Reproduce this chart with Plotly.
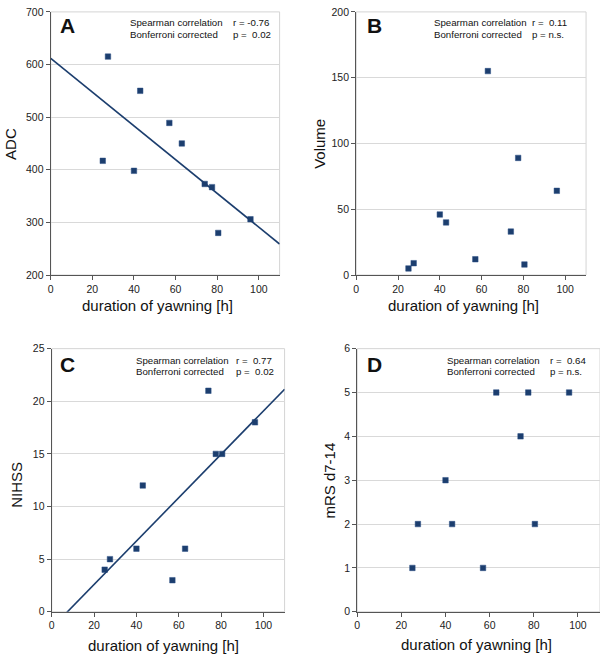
import numpy as np
import plotly.graph_objects as go

# ---- data ----
duration = [25, 27.5, 40, 43, 57, 63, 74, 77.5, 80.5, 96]
adc = [417, 615, 398, 550, 489, 450, 373, 367, 280, 306]
volume = [5, 9, 46, 40, 12, 155, 33, 89, 8, 64]
nihss = [4, 5, 6, 12, 3, 6, 21, 15, 15, 18]
mrs = [1, 2, 3, 2, 1, 5, 4, 5, 2, 5]

panel_letters = ["A", "B", "C", "D"]
y_titles = ["ADC", "Volume", "NIHSS", "mRS d7-14"]
x_title = "duration of yawning [h]"
r_values = ["-0.76", "\u00a00.11", "\u00a00.77", "\u00a00.64"]
p_values = ["\u00a00.02", "n.s.", "\u00a00.02", "n.s."]
y_ranges = [[200, 700], [0, 200], [0, 25], [0, 6]]
y_dticks = [100, 50, 5, 1]
x_ticks = [0, 20, 40, 60, 80, 100]

NAVY = "#1c3e6e"
FONT = "Liberation Sans, Arial, sans-serif"
W, H = 600, 660

# pixel layout of panels: (x0, x1, ytop, ybottom)
panels = [
    (48, 278, 6, 274),
    (355, 586, 6, 274),
    (49, 283, 349, 617),
    (356, 600, 349, 617),
]

series = [adc, volume, nihss, mrs]
fit = [True, False, True, False]

fig = go.Figure()
annotations = []
shapes = []

# positions of texts (pixels)
letter_pos = [(55, 20), (364, 20), (55, 365), (364, 365)]
stat_left = [125.7, 431.5, 131.3, 444.5]
stat_r = [229.3, 529.3, 232.3, 547.3]
stat_y = [(16.5, 29.3), (16.5, 29.3), (360.7, 372.7), (360.7, 372.7)]
ytitle_pos = [(7.5, 140), (318, 140), (12.7, 488), (328, 483)]
xtitle_pos = [(155, 305), (463, 305), (161, 651.5), (475.5, 650.5)]

def px(x):
    return x / W

def py(y):
    return 1 - y / H

for i in range(4):
    k = "" if i == 0 else str(i + 1)
    x0, x1, yt, yb = panels[i]
    xa = dict(
        domain=[px(x0), px(x1)], range=[0, 110], anchor="y" + k,
        tickvals=x_ticks, ticks="outside", ticklen=4, tickcolor="#555",
        showline=True, linecolor="#555", linewidth=1.2,
        showgrid=False, zeroline=False,
        tickfont=dict(family=FONT, size=10.5, color="#222"),
    )
    ya = dict(
        domain=[py(yb), py(yt)], range=y_ranges[i], anchor="x" + k,
        dtick=y_dticks[i], tick0=y_ranges[i][0], ticks="outside", ticklen=4,
        tickcolor="#555", showline=True, linecolor="#555", linewidth=1.2,
        showgrid=True, gridcolor="#d9d9d9", gridwidth=1, zeroline=False,
        tickfont=dict(family=FONT, size=10.5, color="#222"),
    )
    fig.update_layout({"xaxis" + k: xa, "yaxis" + k: ya})

    fig.add_trace(go.Scatter(
        x=duration, y=series[i], mode="markers",
        marker=dict(symbol="square", size=5.5, color=NAVY,
                    line=dict(width=0.5, color="#2a4f85")),
        xaxis="x" + k, yaxis="y" + k, showlegend=False,
    ))
    if fit[i]:
        slope, intercept = np.polyfit(duration, series[i], 1)
        xs = np.array([0, 110])
        fig.add_trace(go.Scatter(
            x=xs, y=slope * xs + intercept, mode="lines",
            line=dict(color=NAVY, width=1.6),
            xaxis="x" + k, yaxis="y" + k, showlegend=False,
        ))

    # light frame on top/right
    shapes.append(dict(type="rect", xref="x" + k + " domain", yref="y" + k + " domain",
                       x0=0, x1=1, y0=0, y1=1, line=dict(color="#d4d4d4", width=1),
                       layer="below"))

    stat_font = dict(family=FONT, size=9.7, color="#111")
    lx, ly = letter_pos[i]
    annotations.append(dict(text="<b>" + panel_letters[i] + "</b>", x=px(lx), y=py(ly),
                            xref="paper", yref="paper", xanchor="left", yanchor="middle",
                            showarrow=False, font=dict(family=FONT, size=21, color="#111")))
    annotations.append(dict(text="Spearman correlation", x=px(stat_left[i]), y=py(stat_y[i][0]),
                            xref="paper", yref="paper", xanchor="left", yanchor="middle",
                            showarrow=False, font=stat_font))
    annotations.append(dict(text="Bonferroni corrected", x=px(stat_left[i]), y=py(stat_y[i][1]),
                            xref="paper", yref="paper", xanchor="left", yanchor="middle",
                            showarrow=False, font=stat_font))
    annotations.append(dict(text="r =\u00a0" + r_values[i], x=px(stat_r[i]), y=py(stat_y[i][0]),
                            xref="paper", yref="paper", xanchor="left", yanchor="middle",
                            showarrow=False, font=stat_font))
    annotations.append(dict(text="p =\u00a0" + p_values[i], x=px(stat_r[i]), y=py(stat_y[i][1]),
                            xref="paper", yref="paper", xanchor="left", yanchor="middle",
                            showarrow=False, font=stat_font))
    tx, ty = ytitle_pos[i]
    annotations.append(dict(text=y_titles[i], x=px(tx), y=py(ty), textangle=-90,
                            xref="paper", yref="paper", xanchor="center", yanchor="middle",
                            showarrow=False, font=dict(family=FONT, size=15, color="#111")))
    tx, ty = xtitle_pos[i]
    annotations.append(dict(text=x_title, x=px(tx), y=py(ty),
                            xref="paper", yref="paper", xanchor="center", yanchor="middle",
                            showarrow=False, font=dict(family=FONT, size=15, color="#111")))

fig.update_layout(
    width=W, height=H, margin=dict(l=0, r=0, t=0, b=0),
    paper_bgcolor="white", plot_bgcolor="white",
    annotations=annotations, shapes=shapes, showlegend=False,
)

fig.write_html(
    "out.html",
    config={"displayModeBar": False},
    post_script="document.body.style.margin='0';document.body.style.overflow='hidden';",
)
